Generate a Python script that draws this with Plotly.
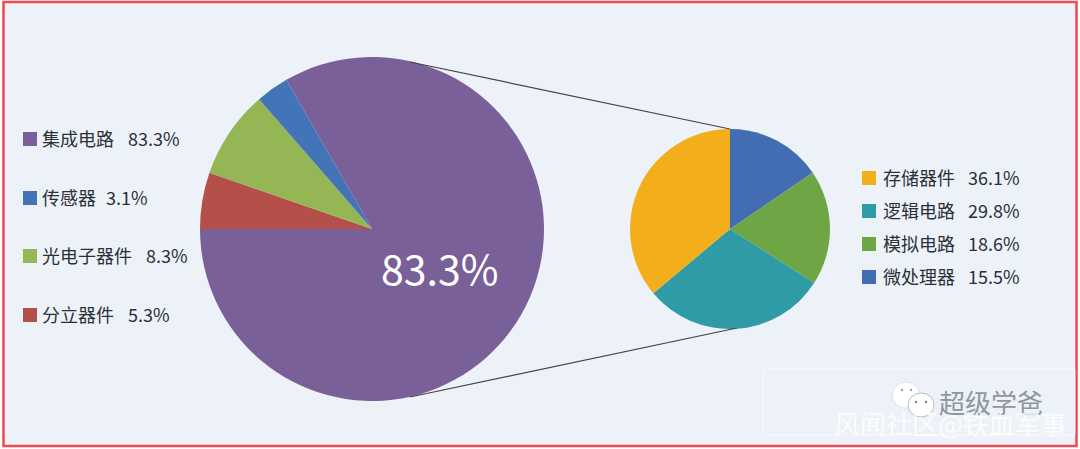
import plotly.graph_objects as go

W, H = 1080, 449

# 左边大饼图
main_labels = ["分立器件", "光电子器件", "传感器", "集成电路"]
main_values = [5.3, 8.3, 3.1, 83.3]
main_colors = ["#b54f49", "#94b655", "#4474b8", "#7a6099"]

# 右边小饼图
sub_labels = ["微处理器", "模拟电路", "逻辑电路", "存储器件"]
sub_values = [15.5, 18.6, 29.8, 36.1]
sub_colors = ["#426db3", "#6ea545", "#2e9ba6", "#f3ae1b"]

# 图例顺序和图上相反
left_names = ["集成电路", "传感器", "光电子器件", "分立器件"]
left_vals = [83.3, 3.1, 8.3, 5.3]
left_cols = ["#7a6099", "#4474b8", "#94b655", "#b54f49"]
right_names = ["存储器件", "逻辑电路", "模拟电路", "微处理器"]
right_vals = [36.1, 29.8, 18.6, 15.5]
right_cols = ["#f3ae1b", "#2e9ba6", "#6ea545", "#426db3"]

FONT = "Noto Sans CJK SC"
TXT = "#2b2f36"
BG = "#edf2f9"


def px(x):
    return x / W


def py(y):
    return 1 - y / H


def pie_domain(cx, cy, r):
    return dict(x=[px(cx - r), px(cx + r)], y=[py(cy + r), py(cy - r)])


fig = go.Figure()
fig.add_trace(go.Pie(labels=main_labels, values=main_values, sort=False, direction="clockwise",
                     rotation=270, textinfo="none", marker=dict(colors=main_colors, line=dict(width=0)),
                     domain=pie_domain(372, 229, 172), showlegend=False, hole=0))
fig.add_trace(go.Pie(labels=sub_labels, values=sub_values, sort=False, direction="clockwise",
                     rotation=0, textinfo="none", marker=dict(colors=sub_colors, line=dict(width=0)),
                     domain=pie_domain(730, 229, 100), showlegend=False, hole=0))

shapes = []
annos = []


def rect(x0, y0, x1, y1, **kw):
    shapes.append(dict(type="rect", xref="paper", yref="paper", x0=px(x0), x1=px(x1),
                       y0=py(y1), y1=py(y0), **kw))


def line(x0, y0, x1, y1, color="#444444", width=1.2):
    shapes.append(dict(type="line", xref="paper", yref="paper", x0=px(x0), x1=px(x1),
                       y0=py(y0), y1=py(y1), line=dict(color=color, width=width)))


def text(x, y, s, size=18, color=TXT, anchor="left", family=FONT):
    annos.append(dict(xref="paper", yref="paper", x=px(x), y=py(y), text=s, showarrow=False,
                      xanchor=anchor, yanchor="middle", align=anchor,
                      font=dict(family=family, size=size, color=color)))


def ellipse(cx, cy, rx, ry, color, border=None):
    ln = dict(width=0) if border is None else dict(color=border, width=1)
    shapes.append(dict(type="circle", xref="paper", yref="paper", x0=px(cx - rx), x1=px(cx + rx),
                       y0=py(cy + ry), y1=py(cy - ry), fillcolor=color, line=ln))


# 背景和红框
rect(3.5, 2, 1076.5, 446, fillcolor=BG, line=dict(color="#ec4a50", width=2.5), layer="below")

# 连接线
line(410, 62, 730, 129)
line(410, 397, 737, 328)

# 左图例
left_y = [139, 198, 256, 315]
left_pct_x = [126, 104, 144, 126]
for n, v, c, y, vx in zip(left_names, left_vals, left_cols, left_y, left_pct_x):
    rect(23, y - 7, 37, y + 7, fillcolor=c, line=dict(width=0))
    text(40, y - 1, n)
    text(vx, y - 1, "%.1f%%" % v)

# 右图例
right_y = [178, 211, 244, 277]
for n, v, c, y in zip(right_names, right_vals, right_cols, right_y):
    rect(862, y - 7, 876, y + 7, fillcolor=c, line=dict(width=0))
    text(881, y - 1, n)
    text(966, y - 1, "%.1f%%" % v)

# 饼图上的大字
text(439, 267, "83.3%", size=41, color="white", anchor="center")

# 水印
rect(763, 369, 1075, 435, fillcolor="rgba(255,255,255,0)", line=dict(color="rgba(255,255,255,0.6)", width=1))
ellipse(906, 395, 14, 13, "#ffffff", border="#dfe3e8")
ellipse(902, 390, 1.2, 1.2, "#9aa0a8")
ellipse(911, 390, 1.2, 1.2, "#9aa0a8")
ellipse(921, 405, 13, 12, "#ffffff", border="#b8bcc3")
ellipse(916, 402, 1.3, 1.3, "#7f858e")
ellipse(926, 402, 1.3, 1.3, "#7f858e")
text(937, 401, "超级学爸", size=26, color="#8f96a0")
text(832, 422, "风闻社区@铁血军事", size=26, color="rgba(255,255,255,0.8)")

fig.update_layout(width=W, height=H, margin=dict(l=0, r=0, t=0, b=0), paper_bgcolor="white",
                  plot_bgcolor="white", shapes=shapes, annotations=annos, showlegend=False)

# 去掉页面默认的 body 边距
fig.write_html("out.html", config=dict(displayModeBar=False),
               post_script="document.body.style.margin='0';document.body.style.overflow='hidden';")
